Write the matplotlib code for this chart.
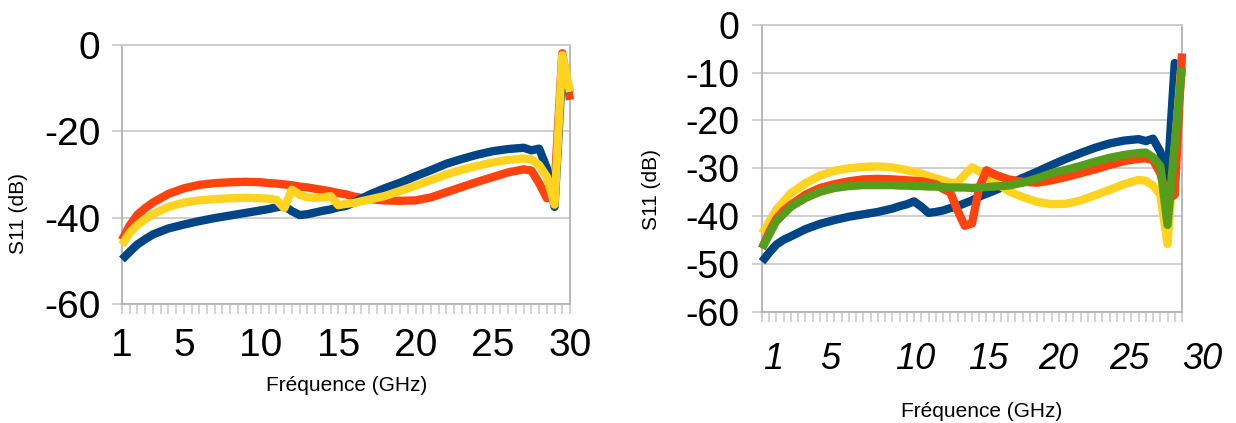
import matplotlib
matplotlib.use("Agg")
import matplotlib.pyplot as plt
import matplotlib.transforms as mtransforms
import numpy as np

plt.rcParams["font.family"] = ["Liberation Sans", "DejaVu Sans"]

# ---------------- data ----------------
freq_left = [1, 1.5, 2, 2.5, 3, 4, 5, 6, 7, 8, 9, 10, 10.5, 11, 11.5, 12, 12.5,
             13, 13.5, 14, 14.5, 15, 15.5, 16, 17, 18, 19, 20, 21, 22, 23, 24,
             25, 26, 27, 27.5, 28, 28.5, 29, 29.5, 30]

left_blue = [-49.7, -47.9, -46.2, -45.0, -43.9, -42.5, -41.6, -40.8, -40.1, -39.5,
             -38.9, -38.3, -38.0, -37.6, -37.3, -38.5, -39.4, -39.2, -38.8, -38.4,
             -38.1, -37.6, -37.3, -36.5, -34.7, -33.2, -31.9, -30.4, -29.0, -27.5,
             -26.4, -25.4, -24.6, -24.1, -23.8, -24.4, -24.0, -28.5, -37.5, -5.0,
             -11.0]
left_red = [-45.2, -41.8, -39.3, -37.8, -36.5, -34.5, -33.2, -32.4, -32.0, -31.8,
            -31.7, -31.8, -32.0, -32.1, -32.3, -32.5, -32.8, -33.0, -33.3, -33.6,
            -33.9, -34.3, -34.6, -35.1, -35.7, -36.0, -36.1, -36.0, -35.3, -34.1,
            -32.9, -31.7, -30.6, -29.5, -28.8, -29.1, -32.0, -35.5, -33.0, -1.9,
            -12.7]
left_yellow = [-46.3, -43.5, -41.7, -40.3, -39.2, -37.5, -36.5, -36.0, -35.7, -35.5,
               -35.4, -35.5, -35.6, -35.9, -37.8, -33.5, -34.7, -35.3, -35.4, -35.3,
               -35.0, -37.1, -36.8, -36.6, -35.8, -35.0, -33.8, -32.6, -31.3, -30.0,
               -28.9, -28.0, -27.2, -26.6, -26.3, -26.5, -27.8, -30.5, -37.0, -2.3,
               -10.9]

freq_right = [1, 1.5, 2, 2.5, 3, 4, 5, 6, 7, 8, 9, 10, 10.5, 11, 11.5, 12, 12.5,
              13, 13.5, 14, 14.5, 15, 15.5, 16, 16.5, 17, 18, 19, 20, 21, 22, 23,
              24, 25, 26, 27, 27.5, 28, 28.5, 29, 29.5, 30]

right_blue = [-49.5, -47.6, -45.9, -44.9, -44.2, -42.7, -41.6, -40.8, -40.1, -39.6,
              -39.1, -38.4, -37.9, -37.5, -36.9, -38.0, -39.3, -39.1, -38.8, -38.3,
              -37.9, -37.3, -36.7, -35.9, -35.3, -34.7, -33.4, -32.0, -30.7, -29.3,
              -28.0, -26.8, -25.7, -24.8, -24.2, -23.9, -24.3, -23.8, -26.5, -32.0,
              -8.0, -11.0]
right_red = [-46.7, -43.3, -40.5, -38.8, -37.6, -35.5, -34.1, -33.3, -32.7, -32.3,
             -32.2, -32.3, -32.4, -32.5, -32.6, -32.7, -33.0, -33.3, -34.3, -35.0,
             -38.8, -42.0, -41.5, -34.0, -30.4, -31.2, -32.3, -32.8, -33.0, -32.5,
             -31.8, -31.0, -30.2, -29.3, -28.5, -28.0, -27.9, -28.3, -31.0, -36.5,
             -35.5, -6.0]
right_yellow = [-43.6, -41.2, -38.6, -36.9, -35.2, -33.1, -31.5, -30.5, -30.0, -29.7,
                -29.6, -29.8, -30.1, -30.4, -30.7, -31.1, -31.6, -32.1, -32.5, -33.0,
                -33.0, -31.3, -29.8, -30.6, -31.7, -32.8, -34.7, -36.0, -37.0, -37.5,
                -37.4, -36.7, -35.6, -34.5, -33.3, -32.4, -32.6, -33.6, -35.5, -45.8,
                -26.0, -7.0]
right_green = [-46.7, -43.8, -41.0, -39.5, -38.0, -36.2, -34.9, -34.1, -33.7, -33.5,
               -33.5, -33.5, -33.6, -33.6, -33.7, -33.7, -33.8, -33.8, -33.9, -34.0,
               -34.0, -34.0, -34.1, -34.0, -33.9, -33.8, -33.6, -33.0, -32.1, -31.0,
               -30.3, -29.5, -28.6, -27.8, -27.2, -26.8, -26.7, -27.7, -29.5, -41.8,
               -25.0, -9.0]

x_tick_values = [1, 5, 10, 15, 20, 25, 30]
x_tick_labels = ["1", "5", "10", "15", "20", "25", "30"]
left_y_ticks = [-60, -40, -20, 0]
right_y_ticks = [-60, -50, -40, -30, -20, -10, 0]
x_label = "Fréquence (GHz)"
y_label = "S11 (dB)"

BLUE, RED, YELLOW, GREEN = "#004586", "#ff420e", "#ffd320", "#579d1c"
AXIS_GREY = "#b3b3b3"
GRID_GREY = "#cccccc"

# ---------------- figure ----------------
W, H = 1236, 423
fig = plt.figure(figsize=(W / 100, H / 100), dpi=100)


def axes_px(left, top, right, bottom):
    return fig.add_axes([left / W, 1 - bottom / H, (right - left) / W, (bottom - top) / H])


def style_axes(ax, yticks, ylabelsize, ypad):
    ax.set_xlim(1, 30)
    ax.set_ylim(-60, 0)
    ax.set_facecolor("white")
    for side in ("left", "right", "bottom"):
        ax.spines[side].set_color(AXIS_GREY)
        ax.spines[side].set_linewidth(1.3)
    ax.spines["top"].set_color(GRID_GREY)
    ax.spines["top"].set_linewidth(1.3)
    ax.set_yticks(yticks)
    ax.set_yticklabels([str(v) for v in yticks])
    ax.yaxis.grid(True, color=GRID_GREY, linewidth=1.3)
    ax.set_axisbelow(True)
    ax.tick_params(axis="y", direction="out", length=7.5, width=1.3, color=GRID_GREY,
                   labelsize=ylabelsize, pad=ypad)
    ax.set_xticks(x_tick_values)
    ax.set_xticks(np.arange(1, 30.01, 0.5), minor=True)
    ax.tick_params(axis="x", which="both", direction="out", length=7.5, width=1.2,
                   color=GRID_GREY)


def draw(ax, x, y, color, z):
    ax.plot(x, y, color=color, linewidth=6.0, solid_capstyle="butt",
            solid_joinstyle="round", clip_on=False, zorder=z)


# left panel
axL = axes_px(122, 45, 570, 304)
style_axes(axL, left_y_ticks, 28, 8)
axL.set_xticklabels(x_tick_labels)
axL.tick_params(axis="x", which="major", labelsize=28, pad=10)
draw(axL, freq_left, left_red, RED, 3)
draw(axL, freq_left, left_blue, BLUE, 4)
draw(axL, freq_left, left_yellow, YELLOW, 5)

# right panel
axR = axes_px(762, 24.7, 1182, 312)
style_axes(axR, right_y_ticks, 27, 9)
axR.set_xticklabels([])
label_shift_px = [11, 10, 23, 23, 21, 20, 20]
for xv, txt, dx in zip(x_tick_values, x_tick_labels, label_shift_px):
    trans = mtransforms.blended_transform_factory(axR.transData, axR.transAxes)
    trans = trans + mtransforms.ScaledTranslation(dx / 100, -30 / 100, fig.dpi_scale_trans)
    axR.text(xv, 0, txt, transform=trans, ha="center", va="top", fontsize=26,
             style="italic", clip_on=False)
draw(axR, freq_right, right_blue, BLUE, 3)
draw(axR, freq_right, right_yellow, YELLOW, 4)
draw(axR, freq_right, right_red, RED, 5)
draw(axR, freq_right, right_green, GREEN, 6)

# axis titles
fig.text(19 / W, 1 - 213 / H, y_label, rotation=90, ha="center", va="center", fontsize=15)
fig.text(347 / W, 1 - 385 / H, x_label, ha="center", va="center", fontsize=15)
fig.text(652 / W, 1 - 189 / H, y_label, rotation=90, ha="center", va="center", fontsize=15)
fig.text(982 / W, 1 - 411 / H, x_label, ha="center", va="center", fontsize=15)

fig.savefig("out.png", dpi=100, facecolor="white")
